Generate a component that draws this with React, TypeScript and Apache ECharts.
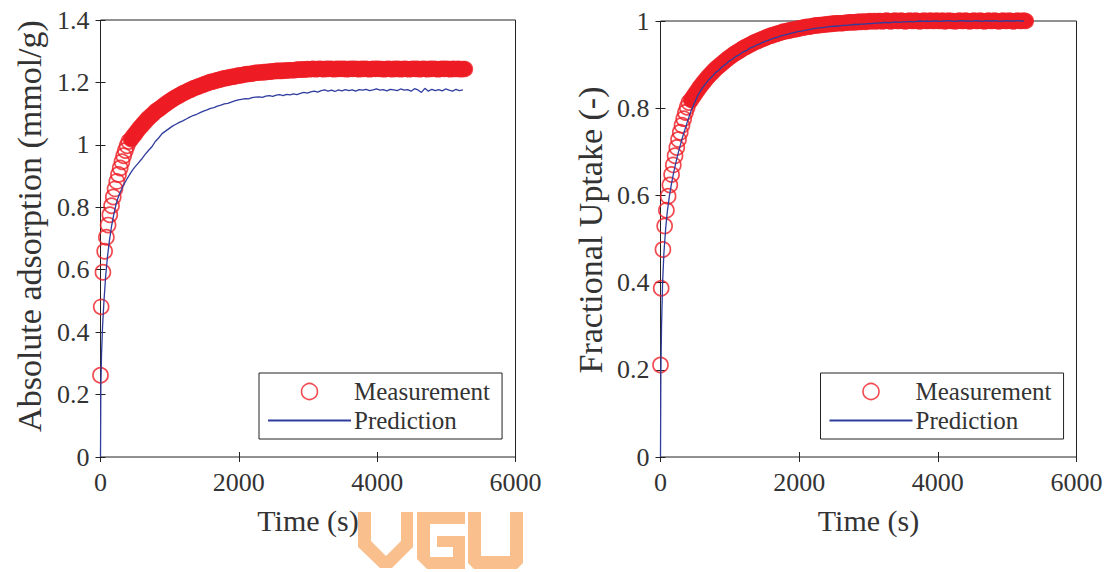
import React, { useEffect, useRef } from "react";
import * as echarts from "echarts";

// ---------- data ----------
const xTicks = [0, 2000, 4000, 6000];
const yTicksAbs = [0, 0.2, 0.4, 0.6, 0.8, 1, 1.2, 1.4];
const yTicksFrac = [0, 0.2, 0.4, 0.6, 0.8, 1];

const measTime = [
  0, 10, 35, 60, 85, 110, 135, 160, 185, 210, 235, 260, 285, 310, 335, 360, 385, 410,
  440, 470, 500, 530, 560, 590, 620, 650, 680, 710, 740, 770, 800, 830, 860, 890, 920, 950,
  980, 1010, 1040, 1070, 1100, 1130, 1160, 1190, 1220, 1250, 1280, 1310, 1340, 1370, 1400,
  1430, 1460, 1490, 1520, 1550, 1580, 1610, 1640, 1670, 1700, 1730, 1760, 1790, 1820, 1850,
  1880, 1910, 1940, 1970, 2000, 2030, 2060, 2090, 2120, 2150, 2180, 2210, 2240, 2270, 2300,
  2330, 2360, 2390, 2420, 2450, 2480, 2510, 2540, 2570, 2600, 2630, 2660, 2690, 2720, 2750,
  2780, 2810, 2840, 2870,
  2900, 2930, 2960, 2990, 3020, 3050, 3080, 3110, 3140, 3170, 3200, 3230, 3260, 3290, 3320,
  3350, 3380, 3410, 3440, 3470, 3500, 3530, 3560, 3590, 3620, 3650, 3680, 3710, 3740, 3770,
  3800, 3830, 3860, 3890, 3920, 3950, 3980, 4010, 4040, 4070, 4100, 4130, 4160, 4190, 4220,
  4250, 4280, 4310, 4340, 4370, 4400, 4430, 4460, 4490, 4520, 4550, 4580, 4610, 4640, 4670,
  4700, 4730, 4760, 4790, 4820, 4850, 4880, 4910, 4940, 4970, 5000, 5030, 5060, 5090, 5120,
  5150, 5180, 5210, 5240, 5270,
];

const measAbs = [
  0.262, 0.481, 0.592, 0.659, 0.704, 0.743, 0.776, 0.805, 0.833, 0.859, 0.883, 0.905,
  0.926, 0.946, 0.965, 0.982, 0.997, 1.011,
  1.018, 1.027, 1.035, 1.044, 1.053, 1.06, 1.068, 1.075, 1.083, 1.089, 1.095, 1.101,
  1.108, 1.112, 1.117, 1.122, 1.127, 1.132, 1.137, 1.141, 1.146, 1.15, 1.154, 1.157,
  1.161, 1.165, 1.168, 1.171, 1.175, 1.177, 1.181, 1.183, 1.186, 1.188, 1.191, 1.193,
  1.196, 1.198, 1.201, 1.202, 1.204, 1.206, 1.208, 1.209, 1.212, 1.213, 1.214, 1.216,
  1.217, 1.218, 1.219, 1.221, 1.222, 1.223, 1.224, 1.226, 1.227, 1.227, 1.228, 1.229,
  1.231, 1.231, 1.232, 1.232, 1.233, 1.233, 1.234, 1.234, 1.236, 1.236, 1.237, 1.237,
  1.237, 1.237, 1.238, 1.238, 1.239, 1.239, 1.239, 1.239, 1.241, 1.241,
  1.241, 1.242, 1.241, 1.243, 1.242, 1.243, 1.244, 1.242, 1.243, 1.244,
  1.243, 1.242, 1.244, 1.243, 1.244, 1.243, 1.242, 1.244, 1.243, 1.244,
  1.243, 1.244, 1.242, 1.243, 1.244, 1.243, 1.244, 1.243, 1.242, 1.244,
  1.243, 1.244, 1.243, 1.242, 1.243, 1.244, 1.243, 1.244, 1.243, 1.243,
  1.242, 1.243, 1.244, 1.243, 1.242, 1.244, 1.243, 1.244, 1.242, 1.243,
  1.244, 1.243, 1.242, 1.243, 1.244, 1.243, 1.244, 1.242, 1.243, 1.244,
  1.243, 1.242, 1.244, 1.243, 1.244, 1.243, 1.242, 1.243, 1.244, 1.243,
  1.244, 1.243, 1.242, 1.244, 1.243, 1.243, 1.244, 1.242, 1.243, 1.243,
];

const measFrac = [
  0.211, 0.387, 0.476, 0.53, 0.566, 0.598, 0.624, 0.648, 0.67, 0.691, 0.71, 0.728,
  0.745, 0.761, 0.776, 0.79, 0.802, 0.813,
  0.819, 0.826, 0.833, 0.84, 0.847, 0.853, 0.859, 0.865, 0.871, 0.876, 0.881, 0.886,
  0.891, 0.895, 0.899, 0.903, 0.907, 0.911, 0.915, 0.918, 0.922, 0.925, 0.928, 0.931,
  0.934, 0.937, 0.94, 0.942, 0.945, 0.947, 0.95, 0.952, 0.954, 0.956, 0.958, 0.96,
  0.962, 0.964, 0.966, 0.967, 0.969, 0.97, 0.972, 0.973, 0.975, 0.976, 0.977, 0.978,
  0.979, 0.98, 0.981, 0.982, 0.983, 0.984, 0.985, 0.986, 0.987, 0.987, 0.988, 0.989,
  0.99, 0.99, 0.991, 0.991, 0.992, 0.992, 0.993, 0.993, 0.994, 0.994, 0.995, 0.995,
  0.995, 0.995, 0.996, 0.996, 0.997, 0.997, 0.997, 0.997, 0.998, 0.998,
  0.998, 0.999, 0.998, 0.999, 1.0, 0.999, 1.0, 0.999, 1.0, 1.0,
  0.999, 1.0, 1.001, 1.0, 0.999, 1.0, 1.001, 1.0, 1.0, 1.001,
  1.0, 0.999, 1.0, 1.001, 1.0, 1.0, 1.001, 1.0, 0.999, 1.0,
  1.001, 1.0, 1.0, 1.001, 1.0, 1.0, 1.001, 1.0, 1.0, 1.001,
  0.999, 1.0, 1.001, 1.0, 1.0, 0.999, 1.0, 1.001, 1.0, 1.0,
  1.001, 1.0, 0.999, 1.0, 1.001, 1.0, 1.0, 1.001, 1.0, 0.999,
  1.0, 1.001, 1.0, 1.0, 1.001, 1.0, 0.999, 1.0, 1.001, 1.0,
  1.0, 1.001, 1.0, 0.999, 1.0, 1.001, 1.0, 1.0, 1.001, 1.0,
];

const predTime = [
  0, 5, 15, 30, 50, 75, 100, 130, 160, 190, 220, 250, 280, 310, 340, 370, 400, 430, 460, 490,
  540, 590, 640, 690, 740, 790, 840, 890, 940, 990,
  1040, 1090, 1140, 1190, 1240, 1290, 1340, 1390, 1440, 1490,
  1540, 1590, 1640, 1690, 1740, 1790, 1840, 1890, 1940, 1990,
  2040, 2090, 2140, 2190, 2240, 2290, 2340, 2390, 2440, 2490,
  2540, 2590, 2640, 2690, 2740, 2790, 2840, 2890, 2940, 2990,
  3040, 3090, 3140, 3190, 3240, 3290, 3340, 3390, 3440, 3490,
  3540, 3590, 3640, 3690, 3740, 3790, 3840, 3890, 3940, 3990,
  4040, 4090, 4140, 4190, 4240, 4290, 4340, 4390, 4440, 4490,
  4540, 4590, 4640, 4690, 4740, 4790, 4840, 4890, 4940, 4990,
  5040, 5090, 5140, 5190, 5240,
];

const predAbs = [
  0, 0.22, 0.33, 0.42, 0.5, 0.58, 0.64, 0.695, 0.74, 0.775, 0.805, 0.828, 0.846, 0.86,
  0.874, 0.886, 0.897, 0.908, 0.918, 0.927,
  0.94, 0.953, 0.968, 0.981, 0.993, 1.01, 1.022, 1.036, 1.044, 1.052,
  1.06, 1.066, 1.072, 1.077, 1.083, 1.089, 1.094, 1.098, 1.103, 1.108,
  1.112, 1.117, 1.119, 1.124, 1.127, 1.131, 1.133, 1.137, 1.141, 1.144,
  1.146, 1.148, 1.147, 1.151, 1.153, 1.154, 1.152, 1.156, 1.158, 1.155,
  1.159, 1.161, 1.158, 1.162, 1.16, 1.163, 1.161, 1.165, 1.168, 1.166,
  1.17, 1.172, 1.169, 1.174, 1.176, 1.172, 1.175, 1.171, 1.176, 1.173,
  1.177, 1.174, 1.176, 1.172, 1.177, 1.175, 1.178, 1.174, 1.176, 1.179,
  1.175, 1.177, 1.173, 1.178, 1.176, 1.174, 1.179, 1.175, 1.177, 1.172,
  1.18, 1.176, 1.168, 1.181, 1.172, 1.178, 1.174, 1.177, 1.173, 1.179,
  1.175, 1.172, 1.178, 1.174, 1.176,
];

const predFrac = [
  0, 0.19, 0.3, 0.4, 0.47, 0.525, 0.565, 0.6, 0.628, 0.652, 0.674, 0.694, 0.712,
  0.729, 0.745, 0.76, 0.775, 0.789, 0.801, 0.812,
  0.83, 0.843, 0.854, 0.864, 0.872, 0.881, 0.887, 0.895, 0.901, 0.908,
  0.913, 0.919, 0.923, 0.929, 0.932, 0.938, 0.941, 0.945, 0.948, 0.952,
  0.955, 0.958, 0.961, 0.963, 0.966, 0.968, 0.97, 0.972, 0.974, 0.976,
  0.977, 0.979, 0.98, 0.982, 0.983, 0.984, 0.985, 0.986, 0.987, 0.988,
  0.988, 0.989, 0.99, 0.99, 0.991, 0.992, 0.992, 0.993, 0.993, 0.994,
  0.994, 0.995, 0.995, 0.996, 0.997, 0.996, 0.997, 0.998, 0.997, 0.998,
  0.998, 0.999, 0.998, 0.999, 1.0, 0.999, 1.0, 0.999, 1.0, 1.0,
  0.999, 1.0, 1.001, 1.0, 0.999, 1.0, 1.001, 1.0, 1.0, 0.999,
  1.001, 1.0, 0.999, 1.001, 1.0, 1.0, 1.001, 0.999, 1.0, 1.001,
  1.0, 1.0, 1.001, 1.0, 1.0,
];

// ---------- styling ----------
const FONT = "'Liberation Serif', 'Times New Roman', Times, 'DejaVu Serif', serif";
const TEXT = "#333333";
const FRAME = "#222222";
const RED = "#ee1d24";
const BLUE = "#2f3d9e";
const WM = "#f9c08e";
const DENSE_FROM = 440; // from here on the markers overlap into a solid band

const scatterPairs = (xs: number[], ys: number[]) =>
  xs.map((x, i) =>
    x >= DENSE_FROM
      ? { value: [x, ys[i]], itemStyle: { borderWidth: 2.4 }, symbolSize: 14 }
      : { value: [x, ys[i]] }
  );
const linePairs = (xs: number[], ys: number[]) => xs.map((x, i) => [x, ys[i]]);
const densePairs = (xs: number[], ys: number[]) =>
  xs.map((x, i) => [x, ys[i]]).filter((p) => p[0] >= DENSE_FROM);

function xAxes(gridIndex: number) {
  const base = {
    type: "value",
    gridIndex,
    min: xTicks[0],
    max: xTicks[xTicks.length - 1],
    interval: xTicks[1] - xTicks[0],
    axisLine: { show: false },
    splitLine: { show: false },
    axisTick: { show: true, inside: true, length: 5, lineStyle: { color: FRAME } },
  };
  return [
    {
      ...base,
      position: "bottom",
      name: "Time (s)",
      nameLocation: "middle",
      nameGap: 48,
      nameTextStyle: { fontFamily: FONT, fontSize: 30, color: TEXT },
      axisLabel: {
        fontFamily: FONT,
        fontSize: 26,
        color: TEXT,
        margin: 12,
        formatter: (v: number) => String(v),
      },
    },
    { ...base, position: "top", axisLabel: { show: false } },
  ];
}

function yAxes(gridIndex: number, ticks: number[]) {
  const base = {
    type: "value",
    gridIndex,
    min: ticks[0],
    max: ticks[ticks.length - 1],
    interval: ticks[1] - ticks[0],
    axisLine: { show: false },
    splitLine: { show: false },
    axisTick: { show: true, inside: true, length: 5, lineStyle: { color: FRAME } },
  };
  return [
    {
      ...base,
      position: "left",
      axisLabel: {
        fontFamily: FONT,
        fontSize: 26,
        color: TEXT,
        margin: 11,
        formatter: (v: number) => String(Math.round(v * 10) / 10),
      },
    },
    { ...base, position: "right", axisLabel: { show: false } },
  ];
}

function legend(left: number) {
  return {
    left,
    top: 373,
    orient: "vertical",
    itemWidth: 83,
    itemHeight: 16,
    itemGap: 4,
    padding: [6, 12, 6, 8],
    borderColor: FRAME,
    borderWidth: 1,
    backgroundColor: "#ffffff",
    selectedMode: false,
    textStyle: { fontFamily: FONT, fontSize: 25, color: TEXT, padding: [0, 0, 0, -2] },
    data: [
      { name: "Measurement", itemStyle: { borderWidth: 1.6 } },
      { name: "Prediction", itemStyle: { color: "rgba(0,0,0,0)", borderColor: "rgba(0,0,0,0)", borderWidth: 0 } },
    ],
  };
}

function band(xi: number, yi: number, data: number[][]) {
  // union of the densely overlapping measurement circles
  return {
    name: "band",
    type: "line",
    xAxisIndex: xi,
    yAxisIndex: yi,
    data,
    symbol: "none",
    silent: true,
    clip: false,
    lineStyle: { color: RED, width: 14.5, cap: "round", join: "round" },
    z: 1,
  };
}

function scatter(xi: number, yi: number, data: any[]) {
  return {
    name: "Measurement",
    type: "scatter",
    xAxisIndex: xi,
    yAxisIndex: yi,
    data,
    symbol: "circle",
    symbolSize: 15,
    clip: false,
    large: false,
    itemStyle: { color: "rgba(255,255,255,0)", borderColor: RED, borderWidth: 1.7 },
    z: 2,
  };
}

function line(xi: number, yi: number, data: number[][]) {
  return {
    name: "Prediction",
    type: "line",
    xAxisIndex: xi,
    yAxisIndex: yi,
    data,
    symbol: "none",
    showSymbol: false,
    clip: false,
    lineStyle: { color: BLUE, width: 1.3 },
    itemStyle: { color: BLUE },
    z: 3,
  };
}

export default function App() {
  const ref = useRef<HTMLDivElement>(null);

  useEffect(() => {
    if (!ref.current) return;
    const chart = echarts.init(ref.current, null, { renderer: "svg" });
    const option: any = {
      animation: false,
      backgroundColor: "#ffffff",
      textStyle: { fontFamily: FONT },
      grid: [
        { left: 100.5, top: 20, width: 415, height: 437, show: true, borderColor: FRAME, borderWidth: 1, backgroundColor: "transparent" },
        { left: 660.5, top: 21, width: 416, height: 436, show: true, borderColor: FRAME, borderWidth: 1, backgroundColor: "transparent" },
      ],
      xAxis: [...xAxes(0), ...xAxes(1)],
      yAxis: [...yAxes(0, yTicksAbs), ...yAxes(1, yTicksFrac)],
      legend: [legend(259), legend(820.5)],
      series: [
        band(0, 0, densePairs(measTime, measAbs)),
        scatter(0, 0, scatterPairs(measTime, measAbs)),
        line(0, 0, linePairs(predTime, predAbs)),
        band(2, 2, densePairs(measTime, measFrac)),
        scatter(2, 2, scatterPairs(measTime, measFrac)),
        line(2, 2, linePairs(predTime, predFrac)),
      ],
      graphic: [
        {
          type: "text",
          x: 29,
          y: 226,
          rotation: Math.PI / 2,
          style: {
            text: "Absolute adsorption (mmol/g)",
            font: "34px " + FONT,
            fill: TEXT,
            textAlign: "center",
            textVerticalAlign: "middle",
            align: "center",
            verticalAlign: "middle",
          },
        },
        {
          type: "text",
          x: 590,
          y: 230,
          rotation: Math.PI / 2,
          style: {
            text: "Fractional Uptake (-)",
            font: "34px " + FONT,
            fill: TEXT,
            textAlign: "center",
            textVerticalAlign: "middle",
            align: "center",
            verticalAlign: "middle",
          },
        },
        {
          type: "group",
          z: 100,
          children: [
            {
              type: "polygon",
              shape: {
                points: [
                  [358, 512], [371, 512], [371, 541], [386, 556], [401, 541], [401, 512],
                  [413, 512], [413, 547], [392, 568], [380, 568], [358, 547],
                ],
              },
              style: { fill: WM },
            },
            {
              type: "polygon",
              shape: {
                points: [
                  [417, 512], [465, 512], [465, 524], [430, 524], [430, 557], [453, 557],
                  [453, 547], [437, 547], [437, 536], [465, 536], [465, 569], [427, 569], [417, 559],
                ],
              },
              style: { fill: WM },
            },
            {
              type: "polygon",
              shape: {
                points: [
                  [468, 512], [481, 512], [481, 556], [510, 556], [510, 512], [523, 512],
                  [523, 563], [517, 569], [474, 569], [468, 563],
                ],
              },
              style: { fill: WM },
            },
          ],
        },
      ],
    };
    chart.setOption(option);
    return () => chart.dispose();
  }, []);

  return (
    <div
      ref={ref}
      style={{ position: "absolute", left: 0, top: 0, width: 1114, height: 572, background: "#fff" }}
    />
  );
}
